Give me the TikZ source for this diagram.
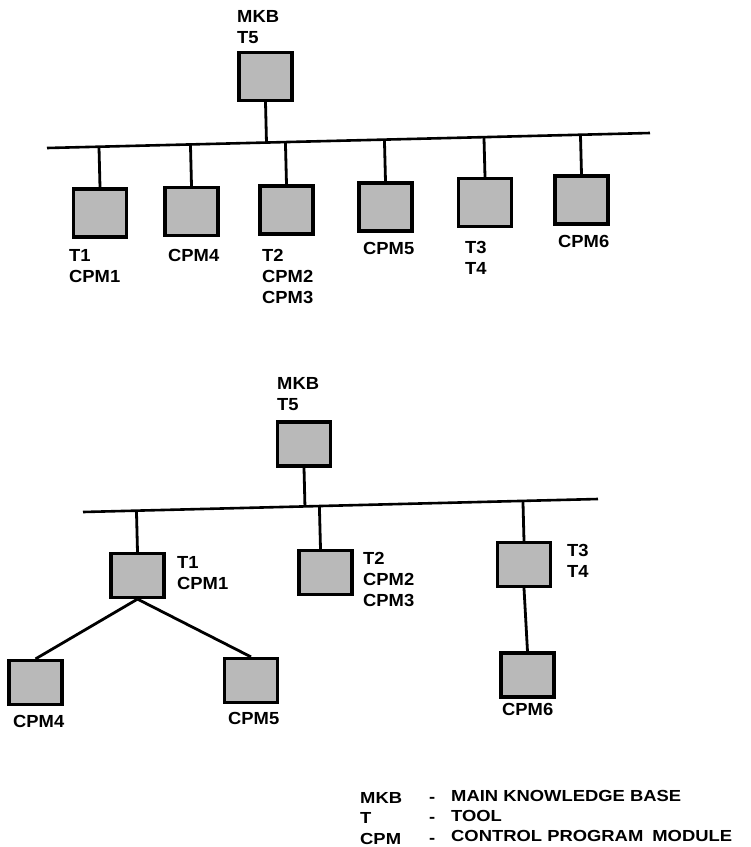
\documentclass[tikz,border=0pt]{standalone}
\usepackage{fontspec}
\setmainfont{Liberation Sans}
\newfontfamily\labfont{Liberation Sans}[FakeStretch=1.05]
\newfontfamily\legfont{Liberation Sans}[FakeStretch=1.15]
\usetikzlibrary{calc}
\begin{document}
\begin{tikzpicture}[x=1pt,y=-1pt,
  unitbox/.style={draw=black, line width=3.2pt, fill=gray!55, inner sep=0pt, minimum width=53pt, minimum height=48pt},
  lowbox/.style={unitbox, minimum height=44pt},
  lab/.style={anchor=north west, inner sep=0pt, align=left, font=\labfont\fontsize{17.5}{21}\selectfont\bfseries},
  leg/.style={anchor=base west, inner sep=0pt, font=\legfont\fontsize{16}{20}\selectfont\bfseries},
  bus/.style={line width=2.6pt},
  link/.style={line width=2.8pt}]
\useasboundingbox (0,0) rectangle (751,847);

% ---------- top diagram ----------
\coordinate (tbL) at (47,148);
\coordinate (tbR) at (650,133);
\draw[bus] (tbL) -- (tbR);

\node[unitbox] (tm) at (265.5,76.5) {};
\node[lab] (tmL) at (237,10) {MKB\\T5};

\node[unitbox] (t1) at (100,213) {};
\node[unitbox] (t2) at (191.5,211.5) {};
\node[unitbox] (t3) at (286.5,210) {};
\node[unitbox] (t4) at (385.5,207) {};
\node[unitbox] (t5) at (485,202.5) {};
\node[unitbox] (t6) at (581.5,200) {};

\draw[link] (tm.south) -- ($(tbL)!(tm.south)!(tbR)$);
\foreach \b in {t1,t2,t3,t4,t5,t6}
  \draw[link] (\b.north) -- ($(tbL)!(\b.north)!(tbR)$);

\node[lab] (t1L) at (69,249.5) {T1\\CPM1};
\node[lab] (t2L) at (168,249.5) {CPM4};
\node[lab] (t3L) at (262,249.5) {T2\\CPM2\\CPM3};
\node[lab] (t4L) at (363,242.5) {CPM5};
\node[lab] (t5L) at (465,241.5) {T3\\T4};
\node[lab] (t6L) at (558,235.5) {CPM6};

% ---------- bottom diagram ----------
\coordinate (bbL) at (83,512);
\coordinate (bbR) at (598,499);
\draw[bus] (bbL) -- (bbR);

\node[lowbox] (bm) at (304,444) {};
\node[lab] (bmL) at (277,377) {MKB\\T5};

\node[lowbox] (b1) at (137.5,575.5) {};
\node[lowbox] (b2) at (325.5,572.5) {};
\node[lowbox] (b3) at (524,564.5) {};
\node[lowbox] (b4) at (35.5,682.5) {};
\node[lowbox] (b5) at (251,680.5) {};
\node[lowbox] (b6) at (527.5,675) {};

\draw[link] (bm.south) -- ($(bbL)!(bm.south)!(bbR)$);
\draw[link] (b1.north) -- ($(bbL)!(b1.north)!(bbR)$);
\draw[link] ([xshift=-5pt]b2.north) -- ($(bbL)!([xshift=-5pt]b2.north)!(bbR)$);
\draw[link] (b3.north) -- ($(bbL)!(b3.north)!(bbR)$);
\draw[link] (b1.south) -- (b4.north);
\draw[link] (b1.south) -- (b5.north);
\draw[link] (b3.south) -- (b6.north);

\node[lab] (b1L) at (177,556.5) {T1\\CPM1};
\node[lab] (b2L) at (363,552.5) {T2\\CPM2\\CPM3};
\node[lab] (b3L) at (567,544) {T3\\T4};
\node[lab] (b4L) at (13,715) {CPM4};
\node[lab] (b5L) at (228,712) {CPM5};
\node[lab] (b6L) at (502,703) {CPM6};

% ---------- legend ----------
\node[leg] (k1) at (360,803) {MKB};
\node[leg] (d1) at (429,802) {-};
\node[leg] (v1) at (451,801) {MAIN KNOWLEDGE BASE};
\node[leg] (k2) at (360,823) {T};
\node[leg] (d2) at (429,822) {-};
\node[leg] (v2) at (451,821) {TOOL};
\node[leg] (k3) at (360,844) {CPM};
\node[leg] (d3) at (429,843) {-};
\node[leg] (v3) at (451,841) {CONTROL PROGRAM\hspace{9pt}MODULE};
\end{tikzpicture}
\end{document}
